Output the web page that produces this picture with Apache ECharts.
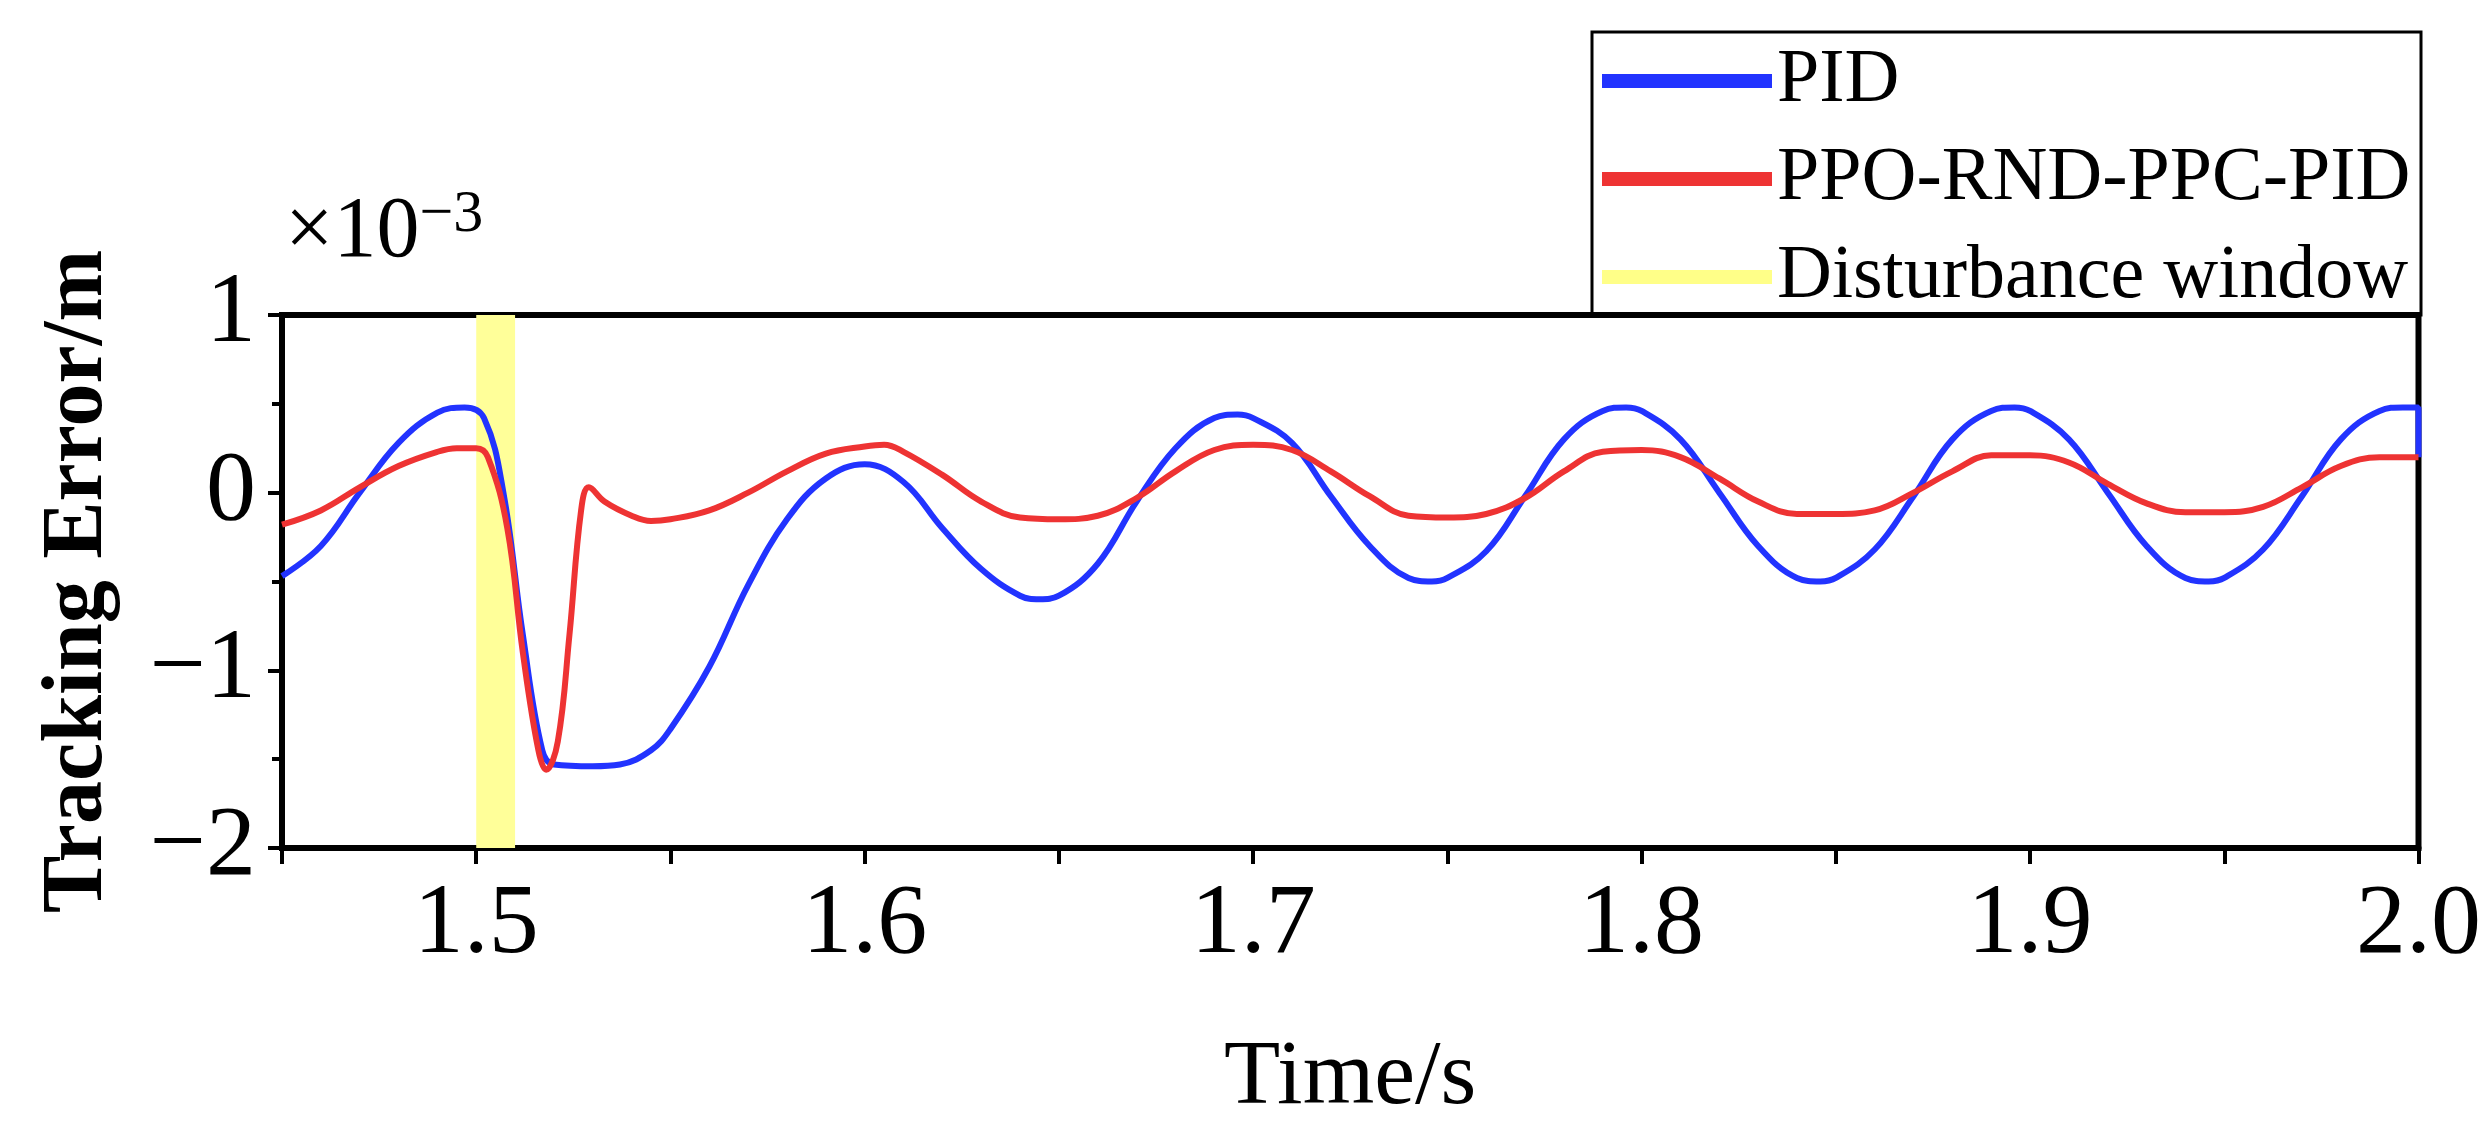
<!DOCTYPE html>
<html><head><meta charset="utf-8">
<script src="https://cdn.jsdelivr.net/npm/echarts@6/dist/echarts.min.js"></script>
<style>html,body{margin:0;padding:0;background:#fff}#c{width:2484px;height:1126px}</style>
</head><body><div id="c"></div>
<script>
const pidData = [
[1.45,-0.47],[1.46,-0.3],[1.47,0.0],[1.48,0.28],[1.49,0.45],[1.497,0.48],[1.502,0.42],[1.507,0.0],
[1.512,-0.8],[1.517,-1.45],[1.52,-1.53],[1.53,-1.54],[1.537,-1.53],[1.545,-1.45],[1.55,-1.33],
[1.56,-0.98],[1.57,-0.52],[1.58,-0.15],[1.59,0.08],[1.60,0.16],[1.61,0.06],[1.62,-0.2],[1.63,-0.43],
[1.64,-0.58],[1.645,-0.6],[1.65,-0.58],[1.66,-0.4],[1.67,-0.05],[1.68,0.25],[1.69,0.42],[1.696,0.44],
[1.70,0.42],[1.71,0.28],[1.72,-0.02],[1.73,-0.3],[1.74,-0.48],[1.746,-0.5],[1.75,-0.48],[1.76,-0.33],
[1.77,-0.02],[1.78,0.3],[1.79,0.46],[1.796,0.48],[1.80,0.46],[1.81,0.3],[1.82,0.0],[1.83,-0.3],
[1.84,-0.48],[1.846,-0.5],[1.85,-0.48],[1.86,-0.32],[1.87,-0.02],[1.88,0.3],[1.89,0.46],[1.896,0.48],
[1.90,0.46],[1.91,0.3],[1.92,0.0],[1.93,-0.3],[1.94,-0.48],[1.946,-0.5],[1.95,-0.48],[1.96,-0.32],
[1.97,-0.02],[1.98,0.3],[1.99,0.46],[1.996,0.48],[2.0,0.48],[2.0,0.2]
];
const rlData = [
[1.45,-0.18],[1.46,-0.1],[1.47,0.03],[1.48,0.15],[1.49,0.23],[1.495,0.25],[1.50,0.25],[1.503,0.2],
[1.508,-0.2],[1.512,-0.9],[1.516,-1.45],[1.518,-1.56],[1.521,-1.4],[1.524,-0.8],[1.527,-0.1],
[1.529,0.03],[1.533,-0.05],[1.54,-0.13],[1.545,-0.16],[1.55,-0.15],[1.56,-0.1],[1.57,0.0],[1.58,0.12],
[1.59,0.22],[1.60,0.26],[1.605,0.27],[1.61,0.23],[1.62,0.1],[1.63,-0.05],[1.64,-0.14],[1.65,-0.15],
[1.66,-0.13],[1.67,-0.03],[1.68,0.12],[1.69,0.24],[1.70,0.27],[1.71,0.24],[1.72,0.12],[1.73,-0.02],
[1.74,-0.13],[1.75,-0.14],[1.76,-0.12],[1.77,-0.03],[1.78,0.12],[1.79,0.23],[1.80,0.24],[1.81,0.2],
[1.82,0.08],[1.83,-0.05],[1.84,-0.12],[1.85,-0.12],[1.86,-0.1],[1.87,0.0],[1.88,0.12],[1.89,0.21],
[1.90,0.21],[1.91,0.17],[1.92,0.05],[1.93,-0.06],[1.94,-0.11],[1.95,-0.11],[1.96,-0.08],[1.97,0.03],
[1.98,0.15],[1.99,0.2],[2.0,0.2]
];
const disturbance = [1.50, 1.51];
const seriesNames = ['PID','PPO-RND-PPC-PID','Disturbance window'];
const F = 'Liberation Serif';
const chart = echarts.init(document.getElementById('c'));
chart.setOption({
  animation:false,
  grid:{left:282,right:63,top:315,bottom:274,show:true,borderColor:'#000',borderWidth:6,backgroundColor:'transparent'},
  legend:{orient:'vertical',left:1597,top:38,itemWidth:170,itemHeight:14,itemGap:22,
    textStyle:{fontFamily:F,fontSize:76,color:'#000'},data:seriesNames,icon:'rect'},
  graphic:[
    {type:'rect',shape:{x:1592,y:32,width:829,height:283},style:{fill:'none',stroke:'#000',lineWidth:3},z:100},
    {type:'text',left:285,top:185,style:{text:'{a|×10}{b|−3}',rich:{a:{fontFamily:F,fontSize:86,fill:'#000'},b:{fontFamily:F,fontSize:60,fill:'#000',verticalAlign:'top',padding:[0,0,36,0]}}}}
  ],
  xAxis:{type:'value',min:1.45,max:2.0,interval:0.05,
    name:'Time/s',nameLocation:'middle',nameGap:185,nameTextStyle:{fontFamily:F,fontSize:92,color:'#000'},
    axisLine:{onZero:false,lineStyle:{color:'#000',width:6}},
    axisTick:{inside:false,length:16,lineStyle:{width:4,color:'#000'}},
    axisLabel:{margin:28,fontFamily:F,fontSize:100,color:'#000',
      formatter:v=>Math.round(v*100)%10===0?v.toFixed(1):''},
    splitLine:{show:false}},
  yAxis:{type:'value',min:-2,max:1,interval:1,
    name:'Tracking Error/m',nameLocation:'middle',nameGap:160,
    nameTextStyle:{fontFamily:F,fontSize:86,fontWeight:'bold',color:'#000'},
    axisLine:{lineStyle:{color:'#000',width:6}},
    axisTick:{length:14,lineStyle:{width:4,color:'#000'}},
    minorTick:{show:true,splitNumber:2,length:10,lineStyle:{width:4,color:'#000'}},
    axisLabel:{margin:26,fontFamily:F,fontSize:100,color:'#000',formatter:v=>v<0?'−'+Math.abs(v):String(v)},
    splitLine:{show:false}},
  series:[
    {name:seriesNames[0],type:'line',data:pidData,smooth:0.4,showSymbol:false,lineStyle:{color:'#2233ff',width:6},itemStyle:{color:'#2233ff'},z:3},
    {name:seriesNames[1],type:'line',data:rlData,smooth:0.4,showSymbol:false,lineStyle:{color:'#ee3333',width:6},itemStyle:{color:'#ee3333'},z:4},
    {name:seriesNames[2],type:'line',data:[],showSymbol:false,lineStyle:{color:'#ffff88',width:14},itemStyle:{color:'#ffff88'},
      markArea:{silent:true,itemStyle:{color:'#ffff99'},data:[[{xAxis:disturbance[0]},{xAxis:disturbance[1]}]]},z:1}
  ]
});
</script></body></html>
